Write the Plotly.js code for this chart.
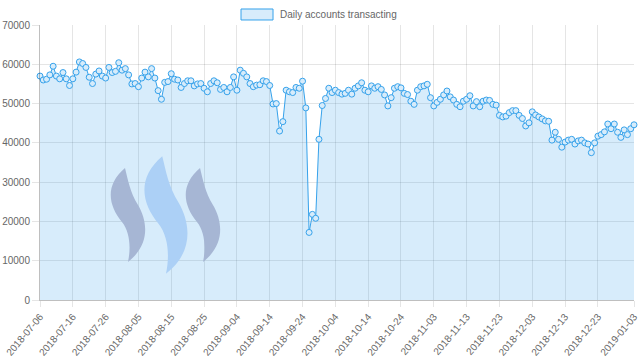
<!DOCTYPE html>
<html>
<head>
<meta charset="utf-8">
<script src="https://cdn.plot.ly/plotly-3.0.1.min.js"></script>
<style>
  html, body { margin: 0; padding: 0; background: #fff; }
  #chart { width: 640px; height: 361px; }
</style>
</head>
<body>
<div id="chart"></div>
<script>
// ---- data ----
const startDate = [2018, 6, 6]; // 2018-07-06 (month is 0-based)
const seriesName = 'Daily accounts transacting';
const accounts = [
  57000, 56000, 56200, 57300, 59500, 57000, 56300, 57900, 56300, 54600,
  56300, 58000, 60600, 60200, 59200, 56700, 55100, 57500, 58300, 57000,
  56500, 59200, 57900, 58200, 60400, 58500, 58900, 57300, 55000, 55100,
  54300, 56500, 58000, 56800, 58900, 56500, 53300, 51100, 55400, 55600,
  57600, 56200, 56000, 54100, 55100, 55800, 55800, 54500, 55000, 55100,
  53900, 53000, 55100, 55800, 55300, 53600, 54100, 53000, 54100, 56800,
  53400, 58500, 57700, 56800, 55100, 54300, 54700, 54800, 55800, 55600,
  54600, 49900, 50000, 43000, 45400, 53400, 53000, 52800, 54100, 53900,
  55700, 48900, 17200, 21800, 20800, 40900, 49500, 51300, 53900, 52800,
  53400, 52800, 52400, 52600, 53400, 52400, 53900, 54500, 55300, 53400,
  53000, 54500, 53900, 54300, 53600, 52200, 49400, 51500, 53900, 54300,
  54000, 52600, 52300, 50600, 49800, 53400, 54300, 54500, 54900, 51500,
  49400, 50300, 51100, 52200, 53200, 51700, 50900, 49800, 49200, 50600,
  51100, 52000, 49400, 50500, 49200, 50600, 50900, 50800, 49800, 49600,
  47000, 46600, 46800, 47700, 48200, 48200, 47000, 46200, 44300, 45100,
  47900, 47100, 46600, 46100, 45600, 45500, 40700, 42700, 40900, 38900,
  40200, 40700, 40900, 39700, 40500, 40700, 40000, 39700, 37500, 40000,
  41700, 42100, 42800, 44800, 43600, 44800, 42700, 41400, 43300, 42100,
  43600, 44600
];
const tickDates = [
  '2018-07-06', '2018-07-16', '2018-07-26', '2018-08-05', '2018-08-15',
  '2018-08-25', '2018-09-04', '2018-09-14', '2018-09-24', '2018-10-04',
  '2018-10-14', '2018-10-24', '2018-11-03', '2018-11-13', '2018-11-23',
  '2018-12-03', '2018-12-13', '2018-12-23', '2019-01-03'
];
const tickLabels = tickDates.slice();
const yTicks = [0, 10000, 20000, 30000, 40000, 50000, 60000, 70000];

// consecutive daily dates
const dates = accounts.map((_, i) =>
  new Date(Date.UTC(startDate[0], startDate[1], startDate[2] + i)).toISOString().slice(0, 10));

// ---- helpers for decorations (pixel -> paper) ----
const L = 40, R = 634, T = 25, B = 300;
const px = x => ((x - L) / (R - L)).toFixed(4);
const py = y => ((B - y) / (B - T)).toFixed(4);
function ribbon(pts) {
  let s = 'M ' + px(pts[0][0]) + ',' + py(pts[0][1]);
  for (let i = 1; i < pts.length; i += 3) {
    s += ' C ' + [pts[i], pts[i + 1], pts[i + 2]].map(p => px(p[0]) + ',' + py(p[1])).join(' ');
  }
  return s + ' Z';
}
function ribbonShape(dx, scale, cx, color) {
  const base = [
    [125, 168],
    [105, 185], [108, 205], [122, 222],
    [130, 232], [131, 248], [128, 262],
    [150, 245], [148, 222], [138, 205],
    [130, 192], [128, 180], [125, 168]
  ];
  const pts = base.map(p => [cx + (p[0] - 128) * scale + dx, 215 + (p[1] - 215) * scale]);
  return { type: 'path', xref: 'paper', yref: 'paper', path: ribbon(pts),
           fillcolor: color, line: { width: 0 }, layer: 'above' };
}

const lineColor = 'rgb(54,162,235)';
const fillColor = 'rgba(54,162,235,0.2)';

const trace = {
  x: dates,
  y: accounts,
  type: 'scatter',
  mode: 'lines+markers',
  name: seriesName,
  fill: 'tozeroy',
  fillcolor: fillColor,
  line: { color: lineColor, width: 1 },
  marker: { size: 6, color: 'rgba(215,236,251,1)', line: { color: lineColor, width: 1 } },
  cliponaxis: false,
  showlegend: false,
  hoverinfo: 'x+y'
};

const layout = {
  width: 640,
  height: 361,
  margin: { l: L, r: 640 - R, t: T, b: 361 - B },
  paper_bgcolor: '#fff',
  plot_bgcolor: '#fff',
  font: { family: 'Liberation Sans, Arial, sans-serif', size: 10, color: '#666' },
  showlegend: false,
  xaxis: {
    type: 'date',
    range: [dates[0], dates[dates.length - 1]],
    tickmode: 'array',
    tickvals: tickDates,
    ticktext: tickLabels,
    tickangle: -50,
    showgrid: true,
    gridcolor: 'rgba(0,0,0,0.1)',
    ticks: 'outside',
    ticklen: 6,
    tickcolor: 'rgba(0,0,0,0.1)',
    showline: true,
    linecolor: 'rgba(0,0,0,0.25)',
    zeroline: false,
    tickfont: { size: 10, color: '#666' }
  },
  yaxis: {
    range: [0, 70000],
    tickmode: 'array',
    tickvals: yTicks,
    tickformat: 'd',
    showgrid: true,
    gridcolor: 'rgba(0,0,0,0.1)',
    ticks: 'outside',
    ticklen: 7,
    tickcolor: 'rgba(0,0,0,0.1)',
    showline: true,
    linecolor: 'rgba(0,0,0,0.25)',
    zeroline: false,
    tickfont: { size: 10, color: '#666' }
  },
  shapes: [
    ribbonShape(0, 1.0, 128, 'rgb(166,182,212)'),
    ribbonShape(0, 1.25, 166, 'rgb(172,208,246)'),
    ribbonShape(0, 1.0, 203, 'rgb(166,182,212)'),
    { type: 'rect', xref: 'paper', yref: 'paper',
      x0: px(241), x1: px(273), y0: py(20), y1: py(9),
      fillcolor: fillColor, line: { color: lineColor, width: 1 } }
  ],
  annotations: [
    { xref: 'paper', yref: 'paper', x: px(278), y: py(14.5), xanchor: 'left', yanchor: 'middle',
      text: seriesName, showarrow: false, font: { size: 10, color: '#666' } }
  ]
};

Plotly.newPlot('chart', [trace], layout, { displayModeBar: false, staticPlot: true });
</script>
</body>
</html>
